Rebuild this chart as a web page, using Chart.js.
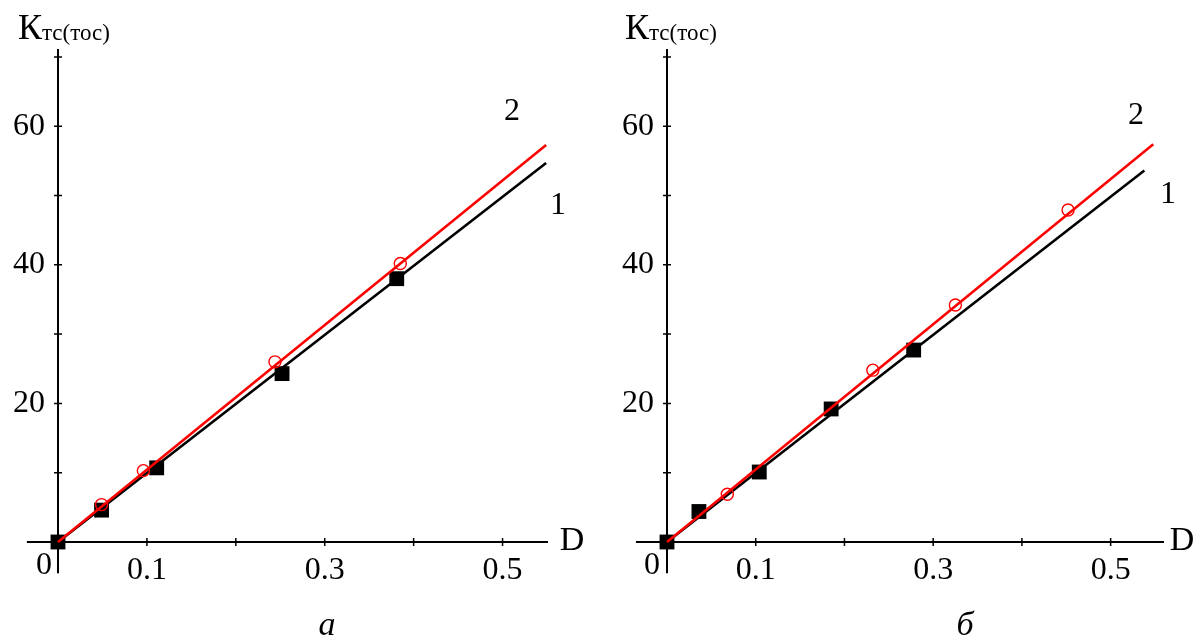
<!DOCTYPE html>
<html>
<head>
<meta charset="utf-8">
<script src="https://cdn.jsdelivr.net/npm/chart.js@4.4.0/dist/chart.umd.min.js"></script>
<style>
  body { margin: 0; background: #fff; width: 1198px; height: 639px; overflow: hidden; position: relative; }
  canvas { position: absolute; top: 0; }
</style>
</head>
<body>
<canvas id="chartA" width="599" height="639" style="left:0"></canvas>
<canvas id="chartB" width="599" height="639" style="left:599px"></canvas>
<script>
// panel а : measured points (1 - squares, 2 - circles) and fitted lines
var dA1 = [0, 0.049, 0.111, 0.252, 0.381];
var kA1 = [0, 4.6, 10.7, 24.3, 38.0];
var dA2 = [0.049, 0.096, 0.244, 0.385];
var kA2 = [5.4, 10.3, 26.0, 40.2];
var lineDA1 = [0, 0.549];
var lineKA1 = [0, 54.7];
var lineDA2 = [0, 0.549];
var lineKA2 = [0, 57.3];

// panel б
var dB1 = [0, 0.036, 0.104, 0.185, 0.278];
var kB1 = [0, 4.4, 10.1, 19.2, 27.7];
var dB2 = [0.068, 0.232, 0.325, 0.452];
var kB2 = [6.9, 24.8, 34.2, 47.9];
var lineDB1 = [0, 0.538];
var lineKB1 = [0, 53.6];
var lineDB2 = [0, 0.548];
var lineKB2 = [0, 57.4];

// axes
var xTicks = [0.1, 0.2, 0.3, 0.4, 0.5];
var xTickLabels = ['0.1', '', '0.3', '', '0.5'];
var yTicks = [10, 20, 30, 40, 50, 60, 70];
var yTickLabels = ['', '20', '', '40', '', '60', ''];

var serif = 'Liberation Serif, Times New Roman, serif';

function pts(xs, ys) {
  return xs.map(function (x, i) { return { x: x, y: ys[i] }; });
}

// axis stubs below/left of origin, crossing tick marks, and the texts
var decor = {
  id: 'decor',
  beforeDatasetsDraw: function (chart) {
    var ctx = chart.ctx, xs = chart.scales.x, ys = chart.scales.y;
    var x0 = xs.getPixelForValue(0), y0 = ys.getPixelForValue(0);
    ctx.save();
    ctx.strokeStyle = '#000';
    ctx.lineWidth = 2;
    ctx.beginPath();
    ctx.moveTo(xs.getPixelForValue(-0.035), y0);
    ctx.lineTo(x0, y0);
    ctx.moveTo(x0, y0);
    ctx.lineTo(x0, ys.getPixelForValue(-4.5));
    ctx.stroke();
    ctx.lineWidth = 1.5;
    ctx.beginPath();
    xTicks.forEach(function (v) {
      var px = xs.getPixelForValue(v);
      ctx.moveTo(px, y0 - 4);
      ctx.lineTo(px, y0 + 4);
    });
    yTicks.forEach(function (v) {
      var py = ys.getPixelForValue(v);
      ctx.moveTo(x0 - 4, py);
      ctx.lineTo(x0 + 4, py);
    });
    ctx.stroke();
    ctx.restore();
  },
  afterDraw: function (chart, args, opts) {
    var ctx = chart.ctx;
    ctx.save();
    ctx.fillStyle = '#000';
    ctx.textAlign = 'center';
    ctx.textBaseline = 'middle';
    opts.texts.forEach(function (t) {
      ctx.font = (t.italic ? 'italic ' : '') + t.size + 'px ' + serif;
      ctx.fillText(t.text, t.x, t.y);
    });
    // axis title К with subscript
    ctx.textAlign = 'left';
    ctx.textBaseline = 'alphabetic';
    ctx.font = '36px ' + serif;
    ctx.fillText('К', opts.titleX, 39);
    var w = ctx.measureText('К').width;
    ctx.font = '23px ' + serif;
    ctx.fillText('тс(тос)', opts.titleX + w, 40);
    ctx.restore();
  }
};

function makeChart(id, p) {
  return new Chart(document.getElementById(id), {
    type: 'scatter',
    data: {
      datasets: [{
        label: '2',
        data: pts(p.d2, p.k2),
        showLine: false,
        pointStyle: 'circle',
        pointRadius: 6,
        pointBorderWidth: 1.4,
        pointBorderColor: '#ff0000',
        pointBackgroundColor: 'rgba(0,0,0,0)',
        clip: false
      }, {
        label: '2 fit',
        data: pts(p.ld2, p.lk2),
        showLine: true,
        borderColor: '#ff0000',
        borderWidth: 2.6,
        pointRadius: 0,
        clip: false
      }, {
        label: '1',
        data: pts(p.d1, p.k1),
        showLine: false,
        pointStyle: 'rect',
        pointRadius: 10.5,
        pointBorderWidth: 0,
        pointBackgroundColor: '#000',
        pointBorderColor: '#000',
        clip: false
      }, {
        label: '1 fit',
        data: pts(p.ld1, p.lk1),
        showLine: true,
        borderColor: '#000',
        borderWidth: 2.6,
        pointRadius: 0,
        clip: false
      }]
    },
    options: {
      responsive: false,
      animation: false,
      layout: { padding: { left: 0, right: p.rightPad, top: 50, bottom: 0 } },
      plugins: {
        legend: { display: false },
        tooltip: { enabled: false },
        decor: { texts: p.texts, titleX: p.titleX }
      },
      scales: {
        x: {
          type: 'linear',
          position: 'bottom',
          min: 0,
          max: p.xMax,
          afterFit: function (s) { s.height = 639 - 542; },
          afterBuildTicks: function (s) { s.ticks = xTicks.map(function (v) { return { value: v }; }); },
          grid: { display: false, drawTicks: false },
          border: { display: true, color: '#000', width: 2 },
          ticks: {
            padding: 9,
            color: '#000',
            maxRotation: 0,
            autoSkip: false,
            font: { family: serif, size: 32 },
            callback: function (v, i) { return xTickLabels[i]; }
          }
        },
        y: {
          type: 'linear',
          position: 'left',
          min: 0,
          max: 71,
          afterFit: function (s) { s.width = p.axisLeft; },
          afterBuildTicks: function (s) { s.ticks = yTicks.map(function (v) { return { value: v }; }); },
          grid: { display: false, drawTicks: false },
          border: { display: true, color: '#000', width: 2 },
          ticks: {
            padding: 13,
            color: '#000',
            autoSkip: false,
            font: { family: serif, size: 32 },
            callback: function (v, i) { return yTickLabels[i]; }
          }
        }
      }
    },
    plugins: [decor]
  });
}

makeChart('chartA', {
  d1: dA1, k1: kA1, d2: dA2, k2: kA2,
  ld1: lineDA1, lk1: lineKA1, ld2: lineDA2, lk2: lineKA2,
  xMax: 0.550, axisLeft: 58, rightPad: 52, titleX: 18,
  texts: [
    { text: '0', x: 44, y: 566, size: 32 },
    { text: 'D', x: 572, y: 541, size: 34 },
    { text: '2', x: 512, y: 112, size: 32 },
    { text: '1', x: 558, y: 206, size: 32 },
    { text: 'а', x: 327, y: 626, size: 34, italic: true }
  ]
});

makeChart('chartB', {
  d1: dB1, k1: kB1, d2: dB2, k2: kB2,
  ld1: lineDB1, lk1: lineKB1, ld2: lineDB2, lk2: lineKB2,
  xMax: 0.559, axisLeft: 68, rightPad: 35, titleX: 26,
  texts: [
    { text: '0', x: 53, y: 566, size: 32 },
    { text: 'D', x: 583, y: 541, size: 34 },
    { text: '2', x: 537, y: 116, size: 32 },
    { text: '1', x: 569, y: 195, size: 32 },
    { text: 'б', x: 366, y: 626, size: 34, italic: true }
  ]
});
</script>
</body>
</html>
